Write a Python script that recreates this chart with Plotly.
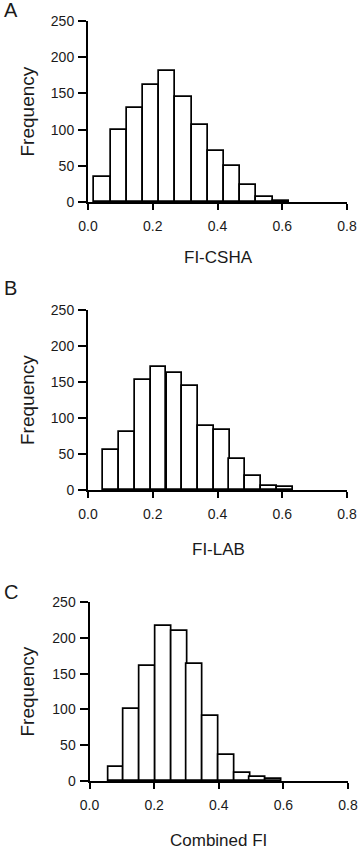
import plotly.graph_objects as go

# ---------------- data ----------------
csha_centers = [0.045, 0.095, 0.145, 0.195, 0.245, 0.295, 0.345, 0.395, 0.445, 0.495, 0.545, 0.595]
csha_counts = [35, 100, 130, 162, 181, 145, 106, 71, 50, 23, 7, 2]
csha_width = 0.05

lab_centers = [0.072, 0.121, 0.169, 0.218, 0.267, 0.315, 0.364, 0.413, 0.461, 0.510, 0.559, 0.608]
lab_counts = [56, 81, 153, 171, 162, 145, 89, 84, 43, 19, 6, 4]
lab_width = 0.0487

comb_centers = [0.082, 0.131, 0.180, 0.229, 0.278, 0.326, 0.375, 0.424, 0.473, 0.521, 0.570]
comb_counts = [20, 100, 160, 217, 209, 163, 91, 36, 11, 5, 3]
comb_width = 0.0488

panel_letters = ["A", "B", "C"]
x_titles = ["FI-CSHA", "FI-LAB", "Combined FI"]
y_title = "Frequency"
x_tickvals = [0.0, 0.2, 0.4, 0.6, 0.8]
x_ticktext = ["0.0", "0.2", "0.4", "0.6", "0.8"]
y_tickvals = [0, 50, 100, 150, 200, 250]
y_ticktext = ["0", "50", "100", "150", "200", "250"]

# ---------------- layout geometry (pixels) ----------------
W, H = 358, 849
FONT = "Liberation Sans, Arial, Helvetica, sans-serif"
TXT = "#1a1a1a"

panels = [
    dict(centers=csha_centers, counts=csha_counts, width=csha_width,
         xl=88, xr=347, yt=21, yb=202, title_y=257.5, letter_y=10),
    dict(centers=lab_centers, counts=lab_counts, width=lab_width,
         xl=88, xr=347, yt=310, yb=490, title_y=549.5, letter_y=288),
    dict(centers=comb_centers, counts=comb_counts, width=comb_width,
         xl=89.5, xr=348, yt=602, yb=781, title_y=840, letter_y=592),
]

fig = go.Figure()
layout = dict(
    width=W, height=H, autosize=False,
    margin=dict(l=0, r=0, t=0, b=0, pad=0, autoexpand=False),
    paper_bgcolor="white", plot_bgcolor="white",
    showlegend=False,
    font=dict(family=FONT, color=TXT),
    annotations=[],
    bargap=0,
)

for i, p in enumerate(panels):
    n = "" if i == 0 else str(i + 1)
    xa, ya = "x" + n, "y" + n
    fig.add_trace(go.Bar(
        x=p["centers"], y=p["counts"], width=p["width"],
        marker=dict(color="white", line=dict(color="black", width=1.7)),
        xaxis=xa, yaxis=ya, hoverinfo="x+y",
    ))
    layout["xaxis" + n] = dict(
        domain=[p["xl"] / W, p["xr"] / W], range=[0, 0.8], anchor=ya,
        tickvals=x_tickvals, ticktext=x_ticktext,
        showline=True, linecolor="black", linewidth=2,
        ticks="outside", ticklen=6, tickwidth=2, tickcolor="black",
        showgrid=False, zeroline=False, automargin=False,
        tickfont=dict(size=14, family=FONT, color=TXT),
        ticklabelstandoff=4,
    )
    layout["yaxis" + n] = dict(
        domain=[1 - p["yb"] / H, 1 - p["yt"] / H], range=[0, 250], anchor=xa,
        tickvals=y_tickvals, ticktext=y_ticktext,
        showline=True, linecolor="black", linewidth=2,
        ticks="outside", ticklen=8, tickwidth=2, tickcolor="black",
        showgrid=False, zeroline=False, automargin=False,
        tickfont=dict(size=14, family=FONT, color=TXT),
        ticklabelstandoff=1,
    )
    # x-axis title
    layout["annotations"].append(dict(
        text=x_titles[i], xref="paper", yref="paper",
        x=218.5 / W, y=1 - p["title_y"] / H,
        xanchor="center", yanchor="middle", showarrow=False,
        font=dict(size=17, family=FONT, color=TXT),
    ))
    # y-axis title
    layout["annotations"].append(dict(
        text=y_title, xref="paper", yref="paper",
        x=27 / W, y=1 - ((p["yt"] + p["yb"]) / 2) / H,
        xanchor="center", yanchor="middle", showarrow=False, textangle=-90,
        font=dict(size=19, family=FONT, color=TXT),
    ))
    # panel letter
    layout["annotations"].append(dict(
        text=panel_letters[i], xref="paper", yref="paper",
        x=2 / W, y=1 - p["letter_y"] / H,
        xanchor="left", yanchor="middle", showarrow=False,
        font=dict(size=20, family=FONT, color=TXT),
    ))

fig.update_layout(**layout)
fig.write_html(
    "out.html",
    config={"displayModeBar": False, "responsive": False},
    post_script="document.body.style.margin='0';document.body.style.padding='0';"
                "document.documentElement.style.overflow='hidden';",
)
